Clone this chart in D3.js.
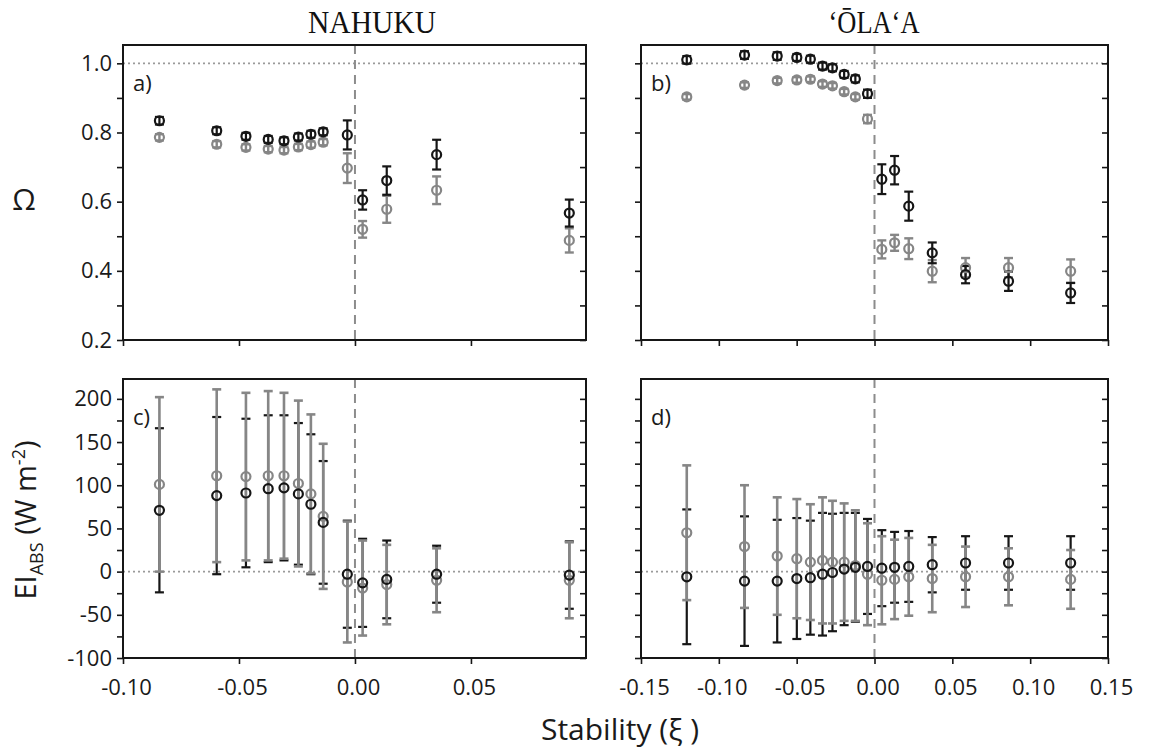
<!DOCTYPE html>
<html>
<head>
<meta charset="utf-8">
<script src="https://cdn.jsdelivr.net/npm/d3@7"></script>
<style>
  body { margin: 0; background: #fff; }
  svg { display: block; font-family: "Open Sans", sans-serif; }
</style>
</head>
<body>
<svg id="chart" width="1152" height="753"></svg>
<script>
// ---- data ----
var nahuku_xi = [-0.0843, -0.0596, -0.0470, -0.0374, -0.0306, -0.0244, -0.0190, -0.0137, -0.0033, 0.0033, 0.0137, 0.0352, 0.0924];
var olaa_xi   = [-0.1206, -0.0835, -0.0625, -0.0499, -0.0412, -0.0334, -0.0270, -0.0195, -0.0123, -0.0045, 0.0047, 0.0129, 0.0220, 0.0371, 0.0585, 0.0861, 0.1260];

var nahuku_omega_black     = [0.834, 0.805, 0.789, 0.780, 0.776, 0.787, 0.795, 0.802, 0.793, 0.605, 0.661, 0.736, 0.567];
var nahuku_omega_black_err = [0.011, 0.010, 0.010, 0.010, 0.010, 0.010, 0.010, 0.010, 0.042, 0.028, 0.041, 0.043, 0.039];
var nahuku_omega_grey      = [0.786, 0.766, 0.757, 0.752, 0.749, 0.758, 0.765, 0.772, 0.697, 0.520, 0.578, 0.633, 0.488];
var nahuku_omega_grey_err  = [0.009, 0.009, 0.009, 0.009, 0.009, 0.009, 0.009, 0.009, 0.043, 0.024, 0.039, 0.040, 0.035];

var olaa_omega_black     = [1.010, 1.024, 1.021, 1.017, 1.012, 0.992, 0.987, 0.968, 0.955, 0.912, 0.665, 0.691, 0.587, 0.452, 0.389, 0.370, 0.336];
var olaa_omega_black_err = [0.011, 0.011, 0.011, 0.010, 0.010, 0.010, 0.010, 0.010, 0.010, 0.012, 0.043, 0.041, 0.042, 0.030, 0.025, 0.028, 0.029];
var olaa_omega_grey      = [0.903, 0.937, 0.950, 0.952, 0.954, 0.940, 0.935, 0.918, 0.903, 0.839, 0.462, 0.481, 0.464, 0.399, 0.409, 0.409, 0.399];
var olaa_omega_grey_err  = [0.008, 0.008, 0.008, 0.008, 0.008, 0.008, 0.008, 0.008, 0.008, 0.012, 0.026, 0.023, 0.030, 0.032, 0.028, 0.028, 0.034];

var nahuku_ei_black     = [71, 88, 91, 96, 97, 90, 78, 57, -3, -13, -9, -3, -4];
var nahuku_ei_black_err = [95, 91, 86, 85, 84, 82, 81, 71, 62, 51, 45, 33, 39];
var nahuku_ei_grey      = [101, 111, 110, 111, 111, 102, 90, 64, -12, -19, -15, -10, -10];
var nahuku_ei_grey_err  = [101, 100, 97, 98, 96, 96, 92, 84, 70, 55, 46, 37, 44];

var olaa_ei_black     = [-6, -11, -11, -8, -7, -3, -1, 3, 5, 6, 4, 5, 6, 8, 10, 10, 10];
var olaa_ei_black_err = [78, 75, 71, 70, 66, 71, 68, 65, 63, 55, 44, 41, 41, 32, 31, 31, 31];
var olaa_ei_grey      = [45, 29, 18, 15, 11, 13, 11, 11, 7, -3, -10, -9, -6, -8, -6, -6, -9];
var olaa_ei_grey_err  = [78, 71, 68, 69, 67, 73, 71, 68, 64, 59, 51, 46, 45, 39, 35, 33, 34];

var nahuku_x_ticks = [-0.10, -0.05, 0.00, 0.05];
var olaa_x_ticks   = [-0.15, -0.10, -0.05, 0.00, 0.05, 0.10, 0.15];
var omega_ticks       = [0.2, 0.4, 0.6, 0.8, 1.0];
var omega_minor_ticks = [0.3, 0.5, 0.7, 0.9];
var ei_ticks       = [-100, -50, 0, 50, 100, 150, 200];
var ei_minor_ticks = [-75, -25, 25, 75, 125, 175];

var site_titles = ["NAHUKU", "\u02BB\u014CLA\u02BBA"];

// ---- layout ----
var BLACK = "#161616";
var GREY  = "#868686";

var cols = [
  { x0: 123, x1: 586, domain: [-0.1, 0.0996], ticks: nahuku_x_ticks, xi: nahuku_xi },
  { x0: 641, x1: 1108, domain: [-0.15, 0.15], ticks: olaa_x_ticks, xi: olaa_xi }
];
var rows = [
  { y0: 45,  y1: 340, domain: [0.2, 1.053], ticks: omega_ticks, minor: omega_minor_ticks, ref: 1.0, fmt: ".1f" },
  { y0: 379, y1: 658, domain: [-100, 223],  ticks: ei_ticks,    minor: ei_minor_ticks,    ref: 0,   fmt: "d" }
];

var svg = d3.select("#chart");

// plain hyphen for negatives, as in the original figure
function hyphen_format(spec) {
  var f = d3.format(spec);
  return function(d) { return f(d).replace("\u2212", "-"); };
}

function series(xi, v, err, color, width) {
  return xi.map(function(x, i) {
    return { x: x, v: v[i], e: err[i], color: color, w: width };
  });
}

function draw_bars(g, x, y, pts) {
  var cap = 4.5;
  var bar = g.append("g").selectAll("g").data(pts).enter().append("g")
    .attr("stroke", function(d) { return d.color; })
    .attr("stroke-width", function(d) { return d.w; });
  bar.append("line")
    .attr("x1", function(d) { return x(d.x); })
    .attr("x2", function(d) { return x(d.x); })
    .attr("y1", function(d) { return y(d.v + d.e); })
    .attr("y2", function(d) { return y(d.v - d.e); });
  bar.append("line")
    .attr("x1", function(d) { return x(d.x) - cap; })
    .attr("x2", function(d) { return x(d.x) + cap; })
    .attr("y1", function(d) { return y(d.v + d.e); })
    .attr("y2", function(d) { return y(d.v + d.e); });
  bar.append("line")
    .attr("x1", function(d) { return x(d.x) - cap; })
    .attr("x2", function(d) { return x(d.x) + cap; })
    .attr("y1", function(d) { return y(d.v - d.e); })
    .attr("y2", function(d) { return y(d.v - d.e); });
}

function draw_dots(g, x, y, pts) {
  g.append("g").selectAll("circle").data(pts).enter().append("circle")
    .attr("cx", function(d) { return x(d.x); })
    .attr("cy", function(d) { return y(d.v); })
    .attr("r", 4.5)
    .attr("fill", "none")
    .attr("stroke", function(d) { return d.color; })
    .attr("stroke-width", 2.2);
}

function style_axis(sel) {
  sel.select(".domain").remove();
  sel.selectAll(".tick line").attr("stroke", BLACK).attr("stroke-width", 1.6);
  sel.selectAll(".tick text")
    .attr("fill", "#1a1a1a")
    .style("font-family", "'Open Sans', sans-serif")
    .style("font-size", "22px");
}

function draw_panel(c, r, label, bar_sets, dot_sets, col_i, row_i) {
  var x = d3.scaleLinear().domain(c.domain).range([c.x0, c.x1]);
  var y = d3.scaleLinear().domain(r.domain).range([r.y1, r.y0]);
  var g = svg.append("g");

  // reference lines
  g.append("line")
    .attr("x1", c.x0).attr("x2", c.x1)
    .attr("y1", y(r.ref)).attr("y2", y(r.ref))
    .attr("stroke", "#9a9a9a").attr("stroke-width", 1.6)
    .attr("stroke-dasharray", "2,3");
  g.append("line")
    .attr("x1", x(0)).attr("x2", x(0))
    .attr("y1", r.y0).attr("y2", r.y1)
    .attr("stroke", "#8c8c8c").attr("stroke-width", 2)
    .attr("stroke-dasharray", "9,6");

  bar_sets.forEach(function(s) { draw_bars(g, x, y, s); });
  dot_sets.forEach(function(s) { draw_dots(g, x, y, s); });

  // left ticks (outward), labels only on the left column
  var left = d3.axisLeft(y).tickValues(r.ticks).tickSize(6).tickPadding(5)
    .tickFormat(col_i > 0 ? "" : hyphen_format(r.fmt));
  g.append("g").attr("transform", "translate(" + c.x0 + ",0)").call(left).call(style_axis);
  g.append("g").attr("transform", "translate(" + c.x0 + ",0)")
    .call(d3.axisLeft(y).tickValues(r.minor).tickSize(6).tickFormat(""))
    .call(style_axis);

  // right ticks (inward)
  g.append("g").attr("transform", "translate(" + c.x1 + ",0)")
    .call(d3.axisRight(y).tickValues(r.ticks.concat(r.minor)).tickSize(-6).tickFormat(""))
    .call(style_axis);

  // bottom ticks (outward), labels only on the lower row
  var bottom = d3.axisBottom(x).tickValues(c.ticks).tickSize(6).tickPadding(15)
    .tickFormat(row_i === 0 ? "" : hyphen_format(".2f"));
  var bx = g.append("g").attr("transform", "translate(0," + r.y1 + ")").call(bottom).call(style_axis);
  bx.selectAll(".tick text").attr("dx", 3);

  // frame
  g.append("rect")
    .attr("x", c.x0).attr("y", r.y0)
    .attr("width", c.x1 - c.x0).attr("height", r.y1 - r.y0)
    .attr("fill", "none").attr("stroke", BLACK).attr("stroke-width", 2);

  g.append("text")
    .attr("x", c.x0 + 10).attr("y", r.y0 + 46)
    .attr("fill", "#1a1a1a")
    .style("font-size", "22px")
    .text(label);
}

// panel a
draw_panel(cols[0], rows[0], "a)",
  [series(nahuku_xi, nahuku_omega_grey, nahuku_omega_grey_err, GREY, 2.4),
   series(nahuku_xi, nahuku_omega_black, nahuku_omega_black_err, BLACK, 2.2)],
  [series(nahuku_xi, nahuku_omega_grey, nahuku_omega_grey_err, GREY, 2.4),
   series(nahuku_xi, nahuku_omega_black, nahuku_omega_black_err, BLACK, 2.2)], 0, 0);

// panel b
draw_panel(cols[1], rows[0], "b)",
  [series(olaa_xi, olaa_omega_grey, olaa_omega_grey_err, GREY, 2.4),
   series(olaa_xi, olaa_omega_black, olaa_omega_black_err, BLACK, 2.2)],
  [series(olaa_xi, olaa_omega_grey, olaa_omega_grey_err, GREY, 2.4),
   series(olaa_xi, olaa_omega_black, olaa_omega_black_err, BLACK, 2.2)], 1, 0);

// panel c
draw_panel(cols[0], rows[1], "c)",
  [series(nahuku_xi, nahuku_ei_black, nahuku_ei_black_err, BLACK, 2.2),
   series(nahuku_xi, nahuku_ei_grey, nahuku_ei_grey_err, GREY, 2.6)],
  [series(nahuku_xi, nahuku_ei_grey, nahuku_ei_grey_err, GREY, 2.6),
   series(nahuku_xi, nahuku_ei_black, nahuku_ei_black_err, BLACK, 2.2)], 0, 1);

// panel d
draw_panel(cols[1], rows[1], "d)",
  [series(olaa_xi, olaa_ei_black, olaa_ei_black_err, BLACK, 2.2),
   series(olaa_xi, olaa_ei_grey, olaa_ei_grey_err, GREY, 2.6)],
  [series(olaa_xi, olaa_ei_grey, olaa_ei_grey_err, GREY, 2.6),
   series(olaa_xi, olaa_ei_black, olaa_ei_black_err, BLACK, 2.2)], 1, 1);

// site titles
svg.append("text")
  .attr("x", 372).attr("y", 33)
  .attr("text-anchor", "middle")
  .attr("textLength", 128).attr("lengthAdjust", "spacingAndGlyphs")
  .style("font-family", "'Liberation Serif', serif").style("font-size", "32px")
  .attr("fill", "#111")
  .text(site_titles[0]);
svg.append("text")
  .attr("x", 874).attr("y", 33)
  .attr("text-anchor", "middle")
  .attr("textLength", 91).attr("lengthAdjust", "spacingAndGlyphs")
  .style("font-family", "'Liberation Serif', serif").style("font-size", "32px")
  .attr("fill", "#111")
  .text(site_titles[1]);

// axis titles
svg.append("text")
  .attr("x", 620).attr("y", 740)
  .attr("text-anchor", "middle")
  .style("font-size", "30px")
  .attr("fill", "#1a1a1a")
  .text("Stability (\u03BE )");

svg.append("text")
  .attr("x", 24).attr("y", 210)
  .attr("text-anchor", "middle")
  .style("font-size", "30px")
  .attr("fill", "#1a1a1a")
  .text("\u03A9");

var ei = svg.append("text")
  .attr("transform", "translate(36,520) rotate(-90)")
  .attr("text-anchor", "middle")
  .style("font-size", "29px")
  .attr("fill", "#1a1a1a");
ei.append("tspan").text("EI");
ei.append("tspan").attr("dy", 7).style("font-size", "18px").text("ABS");
ei.append("tspan").attr("dy", -7).text(" (W m");
ei.append("tspan").attr("dy", -11).style("font-size", "18px").text("-2");
ei.append("tspan").attr("dy", 11).text(")");
</script>
</body>
</html>
